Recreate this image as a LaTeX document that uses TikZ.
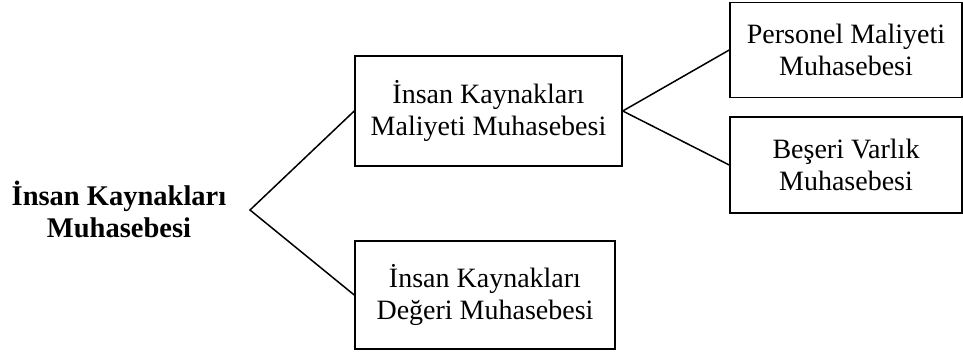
\documentclass[tikz,border=0pt]{standalone}
\usepackage{fontspec}
\setmainfont{Liberation Serif}
\begin{document}
\begin{tikzpicture}[x=1pt,y=-1pt,
  lbl/.style={align=center,font=\fontsize{28}{32}\selectfont,inner sep=0pt},
  box/.style={lbl,draw,line width=1.5pt,minimum width=#1,anchor=center},
  conn/.style={line width=1.5pt}]
\useasboundingbox (0,0) rectangle (963,356);
\node[lbl,font=\fontsize{28.5}{32}\selectfont\bfseries] (root) at (119,209) {İnsan Kaynakları\\Muhasebesi};
\node[box=267pt,minimum height=110pt] (A) at (488.5,111) {İnsan Kaynakları\\Maliyeti Muhasebesi};
\node[box=260pt,minimum height=108pt] (B) at (485,295) {İnsan Kaynakları\\Değeri Muhasebesi};
\node[box=232pt,minimum height=95pt] (C) at (846,50) {Personel Maliyeti\\Muhasebesi};
\node[box=232pt,minimum height=96pt] (D) at (846,165) {Beşeri Varlık\\Muhasebesi};
\coordinate (j1) at (250,210);
\draw[conn] (A.west) -- (j1) -- (B.west);
\draw[conn] (C.west) -- (A.east) -- (D.west);
\end{tikzpicture}
\end{document}
